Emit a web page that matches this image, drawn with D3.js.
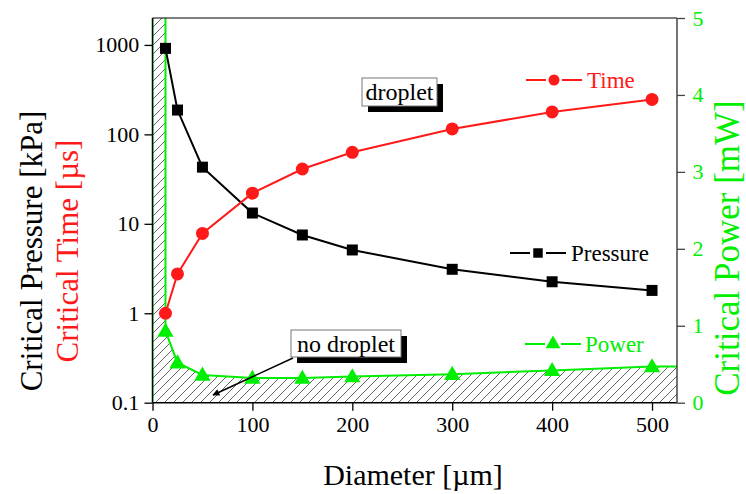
<!DOCTYPE html>
<html>
<head>
<meta charset="utf-8">
<script src="https://cdn.jsdelivr.net/npm/d3@7"></script>
<style>
  @font-face {
    font-family: "ChartSerif";
    src: local("Liberation Serif"), local("LiberationSerif"), local("LiberationSerif-Regular"),
         local("Times New Roman"), local("DejaVu Serif"), local("DejaVuSerif"),
         local("Noto Serif"), local("NotoSerif-Regular"), local("Tinos");
  }
  html, body { margin: 0; padding: 0; background: #fff; }
  svg { display: block; }
</style>
</head>
<body>
<svg id="chart" width="746" height="494"></svg>
<script>
// Diameters (µm) at which the critical values were evaluated
const diameters = [13, 25, 50, 100, 150, 200, 300, 400, 500];
// Critical pressure [kPa] (left, log axis)
const pressure = [915, 187, 43, 13.2, 7.5, 5.1, 3.1, 2.25, 1.8];
// Critical time [µs] (left, log axis)
const time = [1.0, 2.75, 7.8, 22, 41, 63, 115, 178, 246];
// Critical power [mW] (right, linear axis)
const power = [0.93, 0.52, 0.36, 0.32, 0.32, 0.34, 0.37, 0.42, 0.47];

const xTicks = [0, 100, 200, 300, 400, 500];
const leftTicks = [0.1, 1, 10, 100, 1000];
const leftTickLabels = ["0.1", "1", "10", "100", "1000"];
const rightTicks = [0, 1, 2, 3, 4, 5];

const SERIF = "'Liberation Serif', ChartSerif, 'Times New Roman', Times, 'DejaVu Serif', 'Noto Serif', Tinos, serif";
const svg = d3.select("#chart").style("font-family", SERIF);
const L = 152.5, R = 677, T = 18, B = 402.7;

const x = d3.scaleLinear().domain([0, 525]).range([L, R]);
const yL = d3.scaleLog().domain([0.1, 2000]).range([B, T]);
const yR = d3.scaleLinear().domain([0, 5]).range([B, T]);

const GREEN = "#00ee00", RED = "#ff1a1a";

// Hatch pattern for the "no droplet" region
const defs = svg.append("defs");
const pat = defs.append("pattern")
  .attr("id", "hatch").attr("patternUnits", "userSpaceOnUse")
  .attr("width", 9).attr("height", 9);
pat.append("path")
  .attr("d", "M-1,1 L1,-1 M0,9 L9,0 M8,10 L10,8")
  .attr("stroke", "#666").attr("stroke-width", 1);
defs.append("clipPath").attr("id", "plot")
  .append("rect").attr("x", L).attr("y", T).attr("width", R - L).attr("height", B - T);
defs.append("marker").attr("id", "arrow")
  .attr("viewBox", "0 0 10 10").attr("refX", 9).attr("refY", 5)
  .attr("markerWidth", 10).attr("markerHeight", 7).attr("orient", "auto")
  .attr("markerUnits", "userSpaceOnUse")
  .append("path").attr("d", "M0,0 L10,5 L0,10 Z").attr("fill", "#000");

const plot = svg.append("g").attr("clip-path", "url(#plot)");
const lineXY = d3.line().x(d => x(d[0])).y(d => yR(d[1]));

// Region without droplet formation: narrow strip plus area under the power curve
const xMin = diameters[0];
const lastP = power[power.length - 1];
const boundary = [[0, 5], [xMin, 5]]
  .concat(diameters.map((d, i) => [d, power[i]]))
  .concat([[525, lastP], [525, 0], [0, 0]]);
plot.append("path").attr("d", lineXY(boundary) + "Z")
  .attr("fill", "url(#hatch)").attr("stroke", "none");

// Green outline of the strip
plot.append("path").attr("d", lineXY([[0, 0], [0, 5]]))
  .attr("stroke", GREEN).attr("stroke-width", 2).attr("fill", "none");
plot.append("path").attr("d", lineXY([[xMin, 5], [xMin, power[0]]]))
  .attr("stroke", GREEN).attr("stroke-width", 2).attr("fill", "none");

// Power curve
plot.append("path")
  .attr("d", lineXY(diameters.map((d, i) => [d, power[i]]).concat([[525, lastP]])))
  .attr("stroke", GREEN).attr("stroke-width", 2).attr("fill", "none");

// Pressure curve
plot.append("path")
  .attr("d", d3.line().x((d, i) => x(diameters[i])).y(d => yL(d))(pressure))
  .attr("stroke", "#000").attr("stroke-width", 2).attr("fill", "none");
// Time curve
plot.append("path")
  .attr("d", d3.line().x((d, i) => x(diameters[i])).y(d => yL(d))(time))
  .attr("stroke", RED).attr("stroke-width", 2).attr("fill", "none");

const tri = d3.symbol().type(d3.symbolTriangle).size(115);
const sq = d3.symbol().type(d3.symbolSquare).size(121);

svg.append("g").selectAll("path").data(power).join("path")
  .attr("d", tri)
  .attr("transform", (d, i) => `translate(${x(diameters[i])},${yR(d) + 1})`)
  .attr("fill", GREEN);
svg.append("g").selectAll("path").data(pressure).join("path")
  .attr("d", sq)
  .attr("transform", (d, i) => `translate(${x(diameters[i])},${yL(d)})`)
  .attr("fill", "#000");
svg.append("g").selectAll("circle").data(time).join("circle")
  .attr("cx", (d, i) => x(diameters[i])).attr("cy", d => yL(d)).attr("r", 6.5)
  .attr("fill", RED);

// Frame and axes
svg.append("line").attr("x1", L).attr("x2", R).attr("y1", T).attr("y2", T)
  .attr("stroke", "#000").attr("stroke-width", 1.2);

function styleTicks(g, color, size) {
  g.attr("font-family", null);
  g.selectAll("text").style("font-family", SERIF).attr("font-size", size).attr("fill", color);
}

const xAxis = svg.append("g").attr("transform", `translate(0,${B})`);
xAxis.call(d3.axisBottom(x).tickValues(d3.range(50, 525, 100)).tickSize(5).tickFormat(""));
xAxis.call(d3.axisBottom(x).tickValues(xTicks).tickSize(8).tickFormat(d3.format("d")).tickSizeOuter(0));
styleTicks(xAxis, "#000", 22);
xAxis.selectAll("text").attr("dy", "0.85em");
xAxis.selectAll(".domain").attr("stroke", "#000").attr("stroke-width", 1.5).attr("d", `M${L},0H${R}`);
xAxis.selectAll("line").attr("stroke", "#000").attr("stroke-width", 1.3);

const minorL = [];
for (let e = -1; e <= 3; e++) for (let m = 2; m <= 9; m++) {
  const v = m * Math.pow(10, e);
  if (v <= 2000) minorL.push(v);
}
const yAxisL = svg.append("g").attr("transform", `translate(${L},0)`);
yAxisL.call(d3.axisLeft(yL).tickValues(minorL).tickSize(4).tickFormat(""));
yAxisL.call(d3.axisLeft(yL).tickValues(leftTicks).tickSize(8)
  .tickFormat((d, i) => leftTickLabels[i]).tickSizeOuter(0));
styleTicks(yAxisL, "#000", 22);
yAxisL.selectAll("text").attr("dx", "-0.1em");
yAxisL.selectAll(".domain").attr("stroke", "#000").attr("stroke-width", 1.5).attr("d", `M0,${B}V${T}`);
yAxisL.selectAll("line").attr("stroke", "#000").attr("stroke-width", 1.3);

const yAxisR = svg.append("g").attr("transform", `translate(${R},0)`);
yAxisR.call(d3.axisRight(yR).tickValues(d3.range(0.5, 5, 1)).tickSize(5).tickFormat(""));
yAxisR.call(d3.axisRight(yR).tickValues(rightTicks).tickSize(8).tickFormat(d3.format("d")).tickSizeOuter(0));
styleTicks(yAxisR, GREEN, 22);
yAxisR.selectAll("text").attr("dx", "0.2em");
yAxisR.selectAll(".domain").attr("stroke", "#444").attr("stroke-width", 1.5).attr("d", `M0,${B}V${T}`);
yAxisR.selectAll("line").attr("stroke", "#444").attr("stroke-width", 1.3);

function label(g, tr, size, color, anchor, str) {
  return g.append("text").attr("transform", tr)
    .style("font-family", SERIF).attr("font-size", size)
    .attr("fill", color).attr("text-anchor", anchor).text(str);
}

// Axis titles
label(svg, "translate(42,251) rotate(-90)", 31, "#000", "middle", "Critical Pressure [kPa]");
label(svg, "translate(78,251) rotate(-90)", 31, RED, "middle", "Critical Time [µs]");
label(svg, "translate(739,248) rotate(-90)", 35, GREEN, "middle", "Critical Power [mW]");
label(svg, `translate(${(325 + 501) / 2},485)`, 30, "#000", "middle", "Diameter [µm]");

// Legend entries
function legendEntry(cx, cy, color, kind, text, tx) {
  const g = svg.append("g");
  g.append("line").attr("x1", cx - 28).attr("x2", cx - 8).attr("y1", cy).attr("y2", cy)
    .attr("stroke", color).attr("stroke-width", 2);
  g.append("line").attr("x1", cx + 8).attr("x2", cx + 28).attr("y1", cy).attr("y2", cy)
    .attr("stroke", color).attr("stroke-width", 2);
  if (kind === "circle") g.append("circle").attr("cx", cx).attr("cy", cy).attr("r", 5.5).attr("fill", color);
  if (kind === "square") g.append("path").attr("d", d3.symbol().type(d3.symbolSquare).size(90)())
    .attr("transform", `translate(${cx},${cy})`).attr("fill", color);
  if (kind === "triangle") g.append("path").attr("d", d3.symbol().type(d3.symbolTriangle).size(95)())
    .attr("transform", `translate(${cx},${cy})`).attr("fill", color);
  label(g, `translate(${tx},${cy + 8})`, 23, color, "start", text);
}
legendEntry(554, 80, RED, "circle", "Time", 587);
legendEntry(538, 253, "#000", "square", "Pressure", 571);
legendEntry(553, 344, GREEN, "triangle", "Power", 585);

// Annotation boxes with drop shadow
function noteBox(x0, y0, w, h, text) {
  const g = svg.append("g");
  g.append("rect").attr("x", x0 + 6).attr("y", y0 + 6).attr("width", w).attr("height", h).attr("fill", "#000");
  g.append("rect").attr("x", x0).attr("y", y0).attr("width", w).attr("height", h)
    .attr("fill", "#fff").attr("stroke", "#777").attr("stroke-width", 1);
  label(g, `translate(${x0 + w / 2},${y0 + h / 2 + 8})`, 24, "#000", "middle", text);
}
noteBox(362, 78, 75, 28, "droplet");
svg.append("line").attr("x1", 293).attr("y1", 358).attr("x2", 213).attr("y2", 395)
  .attr("stroke", "#000").attr("stroke-width", 1.5).attr("marker-end", "url(#arrow)");
noteBox(291, 330, 110, 27, "no droplet");
</script>
</body>
</html>
